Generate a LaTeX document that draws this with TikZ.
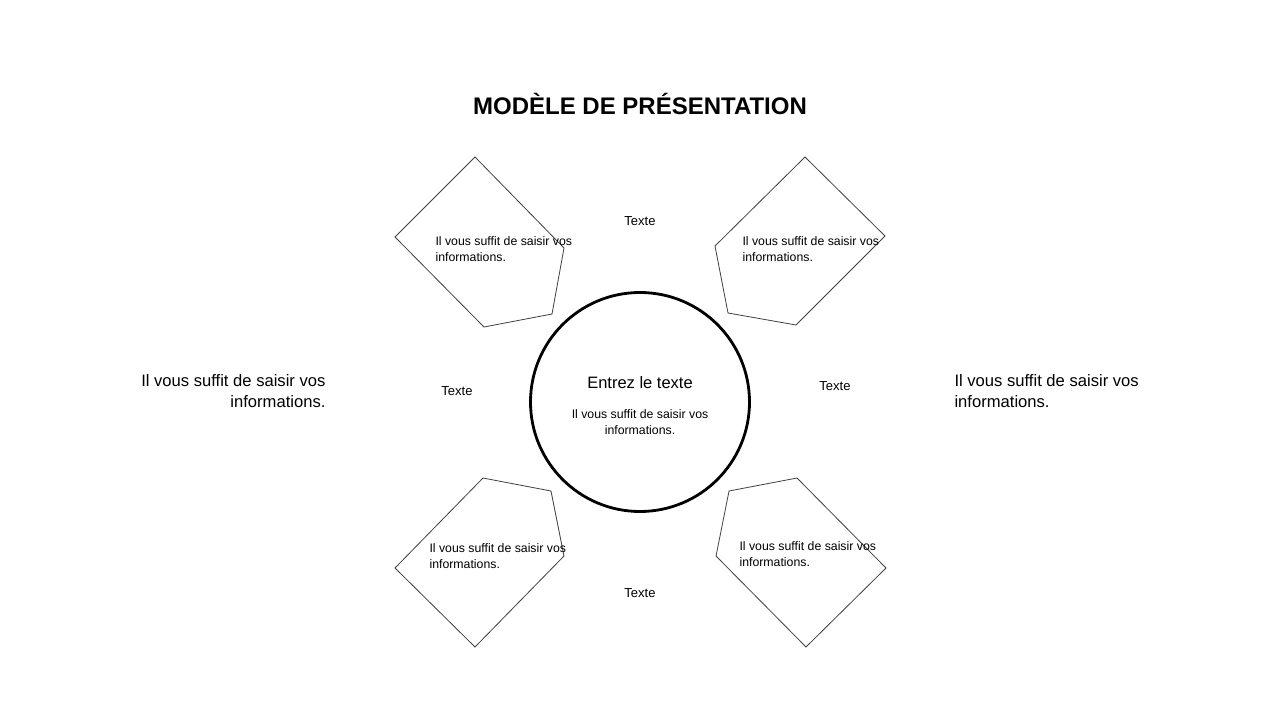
\documentclass[tikz,border=0pt]{standalone}
\usepackage{fontspec}
\setmainfont{Liberation Sans}
\begin{document}
\begin{tikzpicture}[x=1pt,y=-1pt,
  pent/.style={draw=black!75,line width=0.8pt,line join=miter},
  small/.style={font=\fontsize{12.3}{16}\selectfont,align=left,anchor=west},
  lbl/.style={font=\fontsize{13}{15}\selectfont},
  side/.style={font=\fontsize{16.6}{21}\selectfont}]
\useasboundingbox[fill=white] (0,0) rectangle (1280,720);
\node[font=\bfseries\fontsize{24}{28}\selectfont] (title) at (640,104) {MODÈLE DE PRÉSENTATION};
\draw[pent] (475,157) -- (564,248) -- (552,314) -- (484,327) -- (395,237) -- cycle;
\draw[pent] (805,157) -- (885,236) -- (796,325) -- (728,313) -- (715,246) -- cycle;
\draw[pent] (483,478) -- (551,491) -- (564,556) -- (475,647) -- (395,568) -- cycle;
\draw[pent] (797,478) -- (729,491) -- (716,556) -- (806,647) -- (886,568) -- cycle;
\node[small] (t1) at (432,249) {Il vous suffit de saisir vos\\informations.};
\node[small] (t2) at (739,249) {Il vous suffit de saisir vos\\informations.};
\node[small] (t3) at (426,556) {Il vous suffit de saisir vos\\informations.};
\node[small] (t4) at (736,554) {Il vous suffit de saisir vos\\informations.};
\node[lbl] (l1) at (640,221) {Texte};
\node[lbl] (l2) at (457,391) {Texte};
\node[lbl] (l3) at (835,386) {Texte};
\node[lbl] (l4) at (640,593) {Texte};
\node[draw,circle,line width=2.8pt,minimum size=219pt] (c) at (640,402) {};
\node[font=\fontsize{16.5}{18}\selectfont] (ct) at (640,383) {Entrez le texte};
\node[font=\fontsize{12.3}{16}\selectfont,align=center] (cs) at (640,422) {Il vous suffit de saisir vos\\informations.};
\node[side,align=right,anchor=east] (sl) at (329,391) {Il vous suffit de saisir vos\\informations.};
\node[side,align=left,anchor=west] (sr) at (951,391) {Il vous suffit de saisir vos\\informations.};
\end{tikzpicture}
\end{document}
